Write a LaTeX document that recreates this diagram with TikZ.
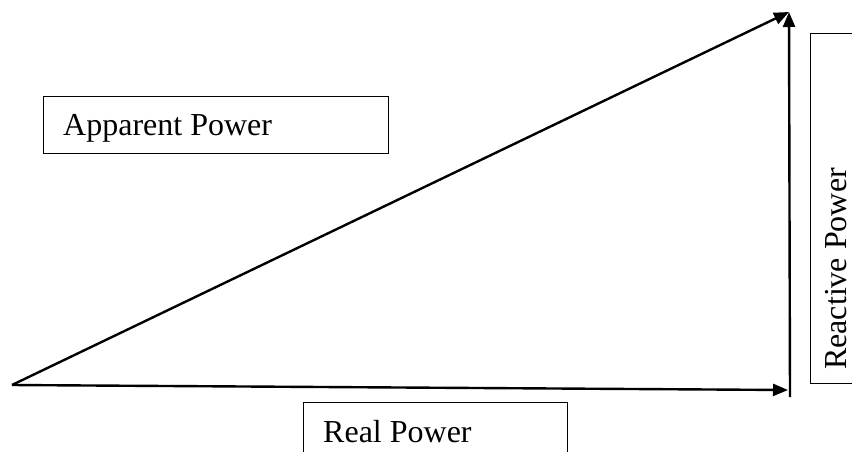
\documentclass[tikz,border=0pt]{standalone}
\usepackage{fontspec}
\setmainfont{Liberation Serif}
\usetikzlibrary{arrows.meta}
\begin{document}
\begin{tikzpicture}[x=1pt,y=-1pt,
  vec/.style={line width=2.4pt,-{Triangle[length=15pt,width=12pt]}},
  labelbox/.style={draw,line width=1.4pt,anchor=north west,inner sep=0pt},
  labeltext/.style={font=\fontsize{32}{38}\selectfont,inner sep=0pt}]
\useasboundingbox (0,0) rectangle (852,451);
\clip (0,0) rectangle (852,451);
\coordinate (O) at (12,385);
\coordinate (T) at (789,12);
\coordinate (H) at (788,390);
\coordinate (B) at (790,397);
\draw[vec] (O) -- (T);
\draw[vec] (O) -- (H);
\draw[vec] (B) -- (T);
\node[labelbox,minimum width=345pt,minimum height=57pt] (appbox) at (43,96) {};
\node[labeltext,anchor=base west] (app) at (63,135) {Apparent Power};
\node[labelbox,minimum width=264pt,minimum height=80pt] (realbox) at (303,402) {};
\node[labeltext,anchor=base west] (real) at (323,442) {Real Power};
\node[labelbox,minimum width=80pt,minimum height=350pt] (reactbox) at (810,33) {};
\node[labeltext,anchor=base west,rotate=90] (react) at (846,370) {Reactive Power};
\end{tikzpicture}
\end{document}
